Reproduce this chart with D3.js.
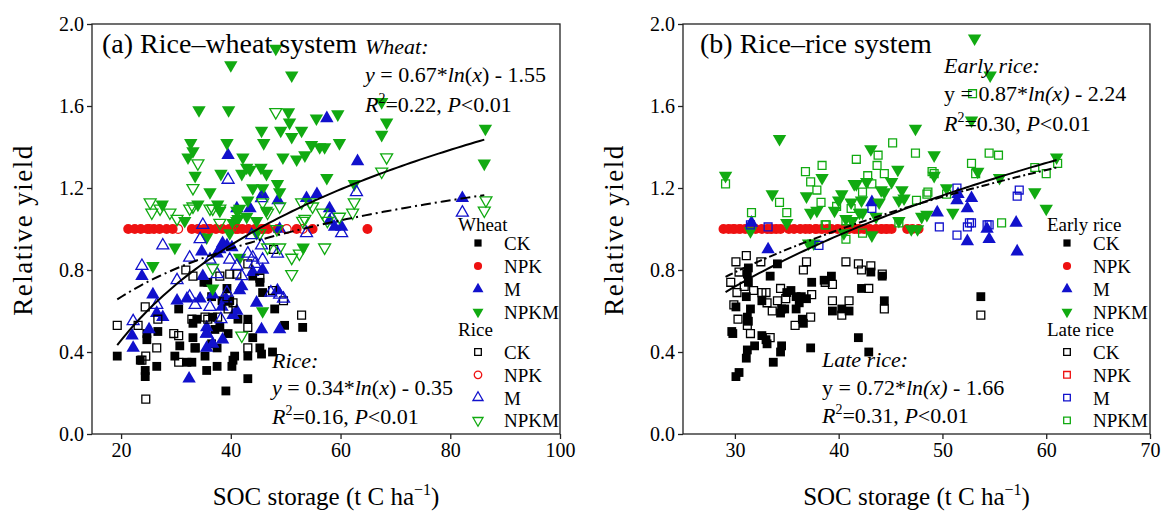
<!DOCTYPE html>
<html>
<head>
<meta charset="utf-8">
<script src="https://cdn.jsdelivr.net/npm/d3@7"></script>
<style>
  body { margin: 0; background: #fff; }
  svg text { font-family: "Liberation Serif", "Times New Roman", serif; }
</style>
</head>
<body>
<svg id="chart" width="1164" height="512" font-family="Liberation Serif"></svg>
<script>
// ---- panel (a) rice-wheat: [SOC, relative yield]
const aWheatCK = [[19.3,0.38],[23.5,0.36],[24.4,0.28],[24.4,0.31],[24.7,0.46],[24.7,0.49],[26.5,0.33],[26.7,0.50],[29.8,0.38],[30.7,0.43],[30.5,0.61],[32.0,0.35],[32.9,0.35],[33.1,0.47],[33.1,0.54],[33.5,0.42],[33.8,0.56],[35.1,0.74],[35.3,0.38],[35.6,0.31],[35.8,0.74],[36.5,0.67],[36.5,0.44],[36.7,0.57],[37.1,0.51],[37.5,0.42],[37.5,0.33],[38.0,0.52],[38.4,0.65],[39.1,0.21],[39.3,0.71],[39.5,0.49],[39.8,0.65],[40.2,0.33],[40.4,0.36],[40.7,0.38],[41.3,0.56],[43.1,0.56],[43.1,0.27],[43.1,0.38],[44.0,0.47],[44.0,0.77],[45.3,0.42],[45.3,0.74],[45.6,0.39],[45.8,0.69],[47.6,0.40],[48.0,0.61],[49.8,0.53],[53.1,0.52]];
const aWheatNPK = [[21.3,1],[22.5,1],[23.6,1],[24.8,1],[26.0,1],[27.0,1],[28.3,1],[29.4,1],[32.9,1],[34.0,1],[35.1,1],[36.2,1],[37.3,1],[38.5,1],[39.7,1],[40.9,1],[42.1,1],[43.2,1],[44.4,1],[45.6,1],[46.8,1],[48.5,1],[52.0,1],[54.9,1],[64.9,1]];
const aWheatM = [[22.0,0.48],[22.2,0.42],[23.8,0.77],[25.1,0.51],[25.8,0.68],[26.5,0.59],[27.6,0.57],[30.2,0.65],[32.0,0.66],[32.4,0.27],[34.4,0.66],[34.7,0.89],[34.9,0.77],[35.6,0.42],[35.6,0.49],[35.6,0.52],[36.7,0.44],[36.7,0.68],[37.5,0.88],[38.0,0.90],[38.4,0.62],[38.5,0.46],[38.5,0.93],[39.1,0.66],[39.3,0.92],[39.5,1.36],[40.2,0.91],[40.4,0.58],[41.1,0.60],[41.1,1.10],[41.6,0.70],[42.0,0.72],[43.5,1.10],[44.0,0.79],[44.7,0.64],[45.6,0.51],[45.8,0.80],[45.8,1.17],[48.5,0.70],[48.6,1.14],[48.9,0.51],[48.9,1.00],[53.8,1.15],[55.7,1.17],[57.5,1.54],[58.0,1.10],[58.0,1.04],[58.9,1.01],[60.2,1.01],[63.1,1.33],[82.2,1.15]];
const aWheatNPKM = [[48.2,1.88],[40.0,1.80],[51.1,1.75],[34.2,1.58],[39.6,1.58],[50.5,1.57],[45.6,1.48],[49.1,1.48],[50.7,1.52],[52.9,1.48],[55.6,1.54],[32.7,1.42],[39.3,1.42],[46.0,1.42],[51.1,1.45],[54.7,1.41],[33.1,1.38],[32.2,1.35],[42.2,1.35],[42.9,1.30],[45.5,1.30],[49.5,1.35],[52.0,1.34],[53.5,1.36],[33.5,1.26],[38.2,1.27],[42.0,1.27],[43.5,1.29],[36.2,1.18],[44.0,1.20],[48.5,1.22],[46.5,1.27],[27.5,1.12],[37.6,1.12],[41.6,1.10],[43.1,1.14],[41.3,1.05],[31.6,1.04],[44.7,1.04],[67.5,1.62],[59.5,1.56],[68.4,1.52],[67.5,1.46],[57.1,1.40],[59.8,1.42],[56.2,1.40],[86.4,1.49],[86.2,1.32],[57.5,1.25],[62.5,1.22],[48.9,1.18],[45.8,1.20],[38.0,1.09],[41.1,1.09],[41.1,1.04],[42.9,1.06],[46.5,1.09],[35.6,0.96],[53.2,0.91],[41.6,0.86],[36.7,0.71],[34.0,1.12],[39.8,0.98],[40.4,1.03],[44.7,0.98],[25.8,0.82],[29.8,0.91],[45.8,0.60]];
const aRiceCK = [[19.3,0.53],[23.1,0.53],[23.8,0.36],[24.4,0.62],[24.5,0.38],[24.5,0.17],[26.5,0.42],[26.7,0.56],[29.6,0.49],[30.5,0.48],[30.5,0.35],[31.8,0.80],[32.9,0.56],[33.1,0.77],[33.5,0.42],[35.3,0.57],[35.8,0.56],[37.6,0.57],[38.0,0.77],[39.3,0.67],[39.5,0.61],[39.8,0.78],[40.4,0.64],[41.1,0.78],[43.1,0.83],[43.1,0.52],[43.1,0.42],[45.3,0.76],[47.6,0.70],[47.8,0.90],[49.6,0.65],[52.9,0.58]];
const aRiceNPK = [[25.2,1],[30.4,1],[36.0,1],[41.3,1],[46.1,1],[50.2,1],[53.1,1]];
const aRiceM = [[22.2,0.55],[23.8,0.82],[26.5,0.63],[27.6,0.92],[30.2,0.75],[32.5,0.67],[32.5,0.86],[33.5,0.63],[34.4,0.95],[34.9,1.02],[35.6,0.49],[36.2,0.62],[36.2,0.85],[37.5,0.78],[38.2,0.56],[39.3,0.69],[39.5,1.24],[39.8,0.85],[41.1,0.82],[42.0,0.77],[43.1,0.88],[43.8,0.97],[44.0,0.86],[44.4,0.83],[45.6,0.92],[45.6,1.15],[45.8,0.85],[47.3,0.69],[48.5,0.88],[48.9,0.68],[49.6,0.66],[53.8,0.98],[58.4,1.05],[60.2,0.98],[62.9,1.18],[82.2,1.08]];
const aRiceNPKM = [[48.2,1.57],[34.0,1.32],[33.1,1.20],[25.3,1.13],[27.1,1.10],[28.9,1.08],[30.2,1.05],[33.1,1.11],[36.2,1.10],[38.0,1.10],[45.8,1.13],[46.7,1.08],[53.5,1.05],[54.4,1.13],[25.6,1.08],[68.4,1.35],[67.5,1.28],[86.5,1.14],[86.2,1.09],[62.5,1.13],[62.2,1.08],[59.8,1.06],[57.6,1.04],[54.9,1.11],[53.1,1.04],[32.5,1.10],[36.7,1.10],[48.9,1.11],[52.9,1.13],[56.7,1.08],[57.1,0.91],[51.1,0.86],[51.1,0.78],[46.7,0.91],[48.9,0.91],[36.7,0.81],[38.0,1.03],[48.4,1.00],[45.3,0.98],[42.0,0.48],[52.5,0.88]];

// ---- panel (b) rice-rice
const bEarlyCK = [[31.3,0.81],[31.2,0.78],[31.3,0.74],[34.1,0.83],[33.4,0.77],[31.1,0.67],[30.1,0.62],[31.5,0.61],[32.6,0.65],[31.2,0.57],[31.3,0.55],[29.7,0.50],[29.8,0.49],[32.6,0.48],[33.0,0.46],[33.1,0.44],[31.9,0.43],[31.2,0.41],[31.1,0.37],[34.5,0.43],[34.4,0.40],[33.7,0.35],[30.4,0.30],[30.1,0.28],[35.0,0.69],[35.4,0.70],[35.9,0.67],[36.4,0.67],[36.9,0.66],[36.2,0.64],[35.9,0.61],[34.8,0.61],[34.5,0.61],[34.4,0.59],[36.5,0.56],[36.6,0.54],[37.4,0.74],[37.3,0.42],[38.6,0.75],[39.3,0.77],[39.4,0.60],[40.3,0.61],[41.0,0.60],[42.2,0.71],[43.1,0.79],[44.2,0.77],[44.4,0.65],[41.9,0.47],[42.9,0.40],[53.7,0.67]];
const bEarlyNPK = [[28.9,1],[29.4,1],[29.9,1],[30.5,1],[31.0,1],[31.4,1],[32.0,1],[32.6,1],[33.1,1],[33.5,1],[34.0,1],[34.4,1],[35.2,1],[35.7,1],[36.3,1],[36.8,1],[37.2,1],[37.8,1],[38.4,1],[38.9,1],[39.3,1],[39.9,1],[40.4,1],[41.0,1],[41.5,1],[41.9,1],[42.5,1],[43.0,1],[43.6,1],[44.1,1],[44.6,1],[45.1,1],[46.6,1],[47.1,1],[47.7,1]];
const bEarlyM = [[31.6,1.03],[33.2,0.90],[43.2,1.13],[49.5,1.08],[51.4,1.14],[51.5,1.17],[52.8,1.15],[52.4,1.10],[52.4,0.94],[54.3,1.00],[54.5,0.95],[57.1,1.03],[57.2,0.89]];
const bEarlyNPKM = [[29.1,1.26],[34.3,1.44],[33.6,1.17],[35.0,1.03],[47.4,1.49],[43.1,1.39],[45.7,1.29],[38.4,1.25],[36.9,1.16],[40.3,1.17],[41.7,1.22],[42.7,1.23],[45.1,1.23],[41.2,1.13],[42.2,1.14],[46.1,1.19],[37.3,1.08],[37.9,1.09],[39.6,1.09],[40.7,1.05],[42.3,1.08],[43.9,1.13],[45.8,1.14],[48.0,1.06],[49.2,1.36],[49.2,1.26],[44.4,1.18],[53.1,1.93],[54.6,1.75],[52.8,1.53],[61.0,1.35],[53.4,1.28],[55.5,1.25],[58.9,1.18],[60.0,1.10],[50.4,1.20],[51.0,1.08],[48.5,1.07],[47.6,1.00],[45.8,1.04],[43.2,0.97],[44.1,1.19],[41.5,1.22],[42.0,1.08],[40.0,1.14],[41.3,1.04],[43.6,1.06],[47.0,1.00],[46.3,1.15],[37.1,0.93],[37.6,0.93],[31.5,0.99],[40.5,0.98]];
const bLateCK = [[30.1,0.84],[31.1,0.87],[30.4,0.79],[29.6,0.74],[30.2,0.69],[29.9,0.63],[30.9,0.72],[31.8,0.70],[32.5,0.84],[32.6,0.69],[33.0,0.69],[33.1,0.64],[33.6,0.60],[34.1,0.65],[30.3,0.56],[31.2,0.53],[31.5,0.49],[33.4,0.47],[34.4,0.71],[34.9,0.66],[36.9,0.84],[36.6,0.80],[37.4,0.68],[37.3,0.57],[35.8,0.53],[38.7,0.74],[39.4,0.65],[39.4,0.73],[40.7,0.84],[41.0,0.65],[40.3,0.58],[41.9,0.83],[42.2,0.80],[43.1,0.82],[44.2,0.78],[42.9,0.71],[44.4,0.61],[53.7,0.58]];
const bLateNPK = [[30.0,1],[33.5,1],[38.0,1],[42.0,1],[44.5,1]];
const bLateM = [[31.5,1.02],[33.2,1.01],[38.1,0.92],[43.2,1.10],[51.4,1.20],[49.7,1.01],[51.4,0.97],[52.8,1.03],[52.4,1.01],[54.5,1.02],[57.2,1.16],[57.4,1.19],[52.6,1.03],[54.3,1.02]];
const bLateNPKM = [[29.1,1.22],[31.6,1.08],[34.3,1.13],[35.0,1.08],[36.8,1.28],[38.4,1.31],[37.3,1.23],[37.9,1.19],[41.7,1.34],[45.2,1.42],[43.8,1.36],[43.7,1.31],[44.4,1.27],[47.4,1.37],[42.8,1.26],[43.2,1.22],[38.3,1.13],[39.8,1.11],[41.2,1.10],[38.8,1.02],[45.8,1.03],[47.5,1.14],[48.6,1.18],[49.0,1.28],[42.3,1.18],[52.9,1.66],[54.5,1.37],[55.4,1.36],[52.8,1.32],[53.2,1.27],[58.9,1.30],[60.0,1.27],[61.1,1.32],[49.2,1.27],[48.5,1.17],[50.4,1.17],[55.7,1.03],[40.7,1.04],[42.3,0.98],[38.7,1.02],[40.7,0.95]];

const yTicks = [0.0, 0.4, 0.8, 1.2, 1.6, 2.0];
const aXTicks = [20, 40, 60, 80, 100];
const bXTicks = [30, 40, 50, 60, 70];
const legendNames = ["CK", "NPK", "M", "NPKM"];
// fitted ln models: y = a*ln(x) + b, [a, b, xStart, xEnd]
const aFitWheat = [0.67, -1.55, 19.3, 86.2];
const aFitRice = [0.34, -0.35, 19.3, 86.2];
const bFitEarly = [0.87, -2.24, 29.1, 61.0];
const bFitLate = [0.72, -1.66, 29.1, 61.0];

const FONT = "Liberation Serif";
const svg = d3.select("#chart");
const colors = { CK: "#000000", NPK: "#ee1111", M: "#1111cc", NPKM: "#11aa11" };

function symbolPath(kind, size) {
  var t = kind == "square" ? d3.symbolSquare : kind == "circle" ? d3.symbolCircle : d3.symbolTriangle;
  return d3.symbol().type(t).size(size)();
}

function styleAxis(a) {
  a.attr("font-family", FONT);
  a.select(".domain").remove();
  a.selectAll("line").attr("stroke", "#222").attr("stroke-width", 1.3);
  a.selectAll("text").attr("font-size", 20).attr("fill", "#000").attr("font-family", FONT);
}

function drawPanel(cfg) {
  var x = d3.scaleLinear().domain(cfg.xDomain).range([cfg.left, cfg.right]);
  var y = d3.scaleLinear().domain([0, 2]).range([434, 24]);
  var g = svg.append("g").attr("font-family", FONT);

  g.append("g")
    .attr("transform", "translate(0,434)")
    .call(d3.axisBottom(x).tickValues(cfg.xTicks).tickSize(5).tickSizeOuter(0).tickPadding(4))
    .call(styleAxis);
  g.append("g")
    .attr("transform", "translate(" + cfg.left + ",0)")
    .call(d3.axisLeft(y).tickValues(yTicks).tickFormat(d3.format(".1f")).tickSize(5).tickSizeOuter(0).tickPadding(3))
    .call(styleAxis);

  // series in legend order
  cfg.series.forEach(function (s) {
    g.append("g").selectAll("path")
      .data(s.data)
      .enter()
      .append("path")
      .attr("d", symbolPath(s.shape, s.filled ? 78 : 62))
      .attr("transform", function (d) {
        return "translate(" + x(d[0]) + "," + y(d[1]) + ")" + (s.down ? " rotate(180)" : "");
      })
      .attr("fill", s.filled ? s.color : "none")
      .attr("stroke", s.color)
      .attr("stroke-width", s.filled ? 0 : 1.3);
  });

  // fit lines
  cfg.fits.forEach(function (f) {
    var p = f.fit;
    var xs = d3.range(p[2], p[3] + 0.001, (p[3] - p[2]) / 80);
    g.append("path")
      .datum(xs)
      .attr("d", d3.line().x(function (d) { return x(d); }).y(function (d) { return y(p[0] * Math.log(d) + p[1]); }))
      .attr("fill", "none")
      .attr("stroke", "#000")
      .attr("stroke-width", 2)
      .attr("stroke-dasharray", f.dash || null);
  });

  // frame
  g.append("rect")
    .attr("x", cfg.left).attr("y", 24)
    .attr("width", cfg.right - cfg.left).attr("height", 410)
    .attr("fill", "none").attr("stroke", "#222").attr("stroke-width", 1.3);

  // title
  g.append("text").attr("x", cfg.left + cfg.titleDx).attr("y", 53)
    .attr("font-size", 28).text(cfg.title);

  // axis titles
  var xt = g.append("text").attr("x", (cfg.left + cfg.right) / 2).attr("y", 505)
    .attr("text-anchor", "middle").attr("font-size", 25);
  xt.append("tspan").text("SOC storage (t C ha");
  xt.append("tspan").attr("dy", -10).attr("font-size", 16).text("\u22121");
  xt.append("tspan").attr("dy", 10).text(")");
  g.append("text")
    .attr("transform", "translate(" + (cfg.left - 60) + ",230) rotate(-90)")
    .attr("text-anchor", "middle").attr("font-size", 27).attr("letter-spacing", 1.5)
    .text("Relative yield");

  // legend
  var lg = g.append("g");
  lg.append("text").attr("x", cfg.legX).attr("y", 231).attr("font-size", 19).text(cfg.legHead[0]);
  lg.append("text").attr("x", cfg.legX).attr("y", 336).attr("font-size", 19).text(cfg.legHead[1]);
  cfg.series.forEach(function (s, i) {
    var cy = i < 4 ? 243 + i * 23 : 352 + (i - 4) * 22.8;
    lg.append("path")
      .attr("d", symbolPath(s.shape, s.filled ? 52 : 44))
      .attr("transform", "translate(" + cfg.legSym + "," + cy + ")" + (s.down ? " rotate(180)" : ""))
      .attr("fill", s.filled ? s.color : "none")
      .attr("stroke", s.color)
      .attr("stroke-width", s.filled ? 0 : 1.3);
    lg.append("text").attr("x", cfg.legSym + 26).attr("y", cy + 7).attr("font-size", 19).text(legendNames[i % 4]);
  });

  // equations
  cfg.notes.forEach(function (n) {
    var t = g.append("text").attr("x", n.x).attr("y", n.y).attr("font-size", 22);
    n.parts.forEach(function (p) {
      var ts = t.append("tspan").text(p[0]);
      if (p[1] == "i") ts.attr("font-style", "italic");
      if (p[1] == "sup") ts.attr("dy", -9).attr("font-size", 14);
      if (p[1] == "after") ts.attr("dy", 9);
    });
  });
}

function makeSeries(ck, npk, m, npkm, ck2, npk2, m2, npkm2, shape2) {
  var sq = shape2 == "square";
  return [
    { data: ck, shape: "square", filled: true, color: colors.CK },
    { data: npk, shape: "circle", filled: true, color: colors.NPK },
    { data: m, shape: "triangle", filled: true, color: colors.M },
    { data: npkm, shape: "triangle", down: true, filled: true, color: colors.NPKM },
    { data: ck2, shape: "square", filled: false, color: colors.CK },
    { data: npk2, shape: sq ? "square" : "circle", filled: false, color: colors.NPK },
    { data: m2, shape: sq ? "square" : "triangle", filled: false, color: colors.M },
    { data: npkm2, shape: sq ? "square" : "triangle", down: !sq, filled: false, color: colors.NPKM }
  ];
}

drawPanel({
  left: 92, right: 560, xDomain: [14.7, 100], xTicks: aXTicks, titleDx: 10,
  title: "(a) Rice\u2013wheat system",
  series: makeSeries(aWheatCK, aWheatNPK, aWheatM, aWheatNPKM, aRiceCK, aRiceNPK, aRiceM, aRiceNPKM, "mixed"),
  fits: [{ fit: aFitWheat }, { fit: aFitRice, dash: "10,4,2,4" }],
  legX: 458, legSym: 478, legHead: ["Wheat", "Rice"],
  notes: [
    { x: 365, y: 54, parts: [["Wheat:", "i"]] },
    { x: 365, y: 82, parts: [["y", "i"], [" = 0.67*"], ["ln", "i"], ["("], ["x", "i"], [") - 1.55"]] },
    { x: 365, y: 112, parts: [["R", "i"], ["2", "sup"], ["=0.22, ", "after"], ["P", "i"], ["<0.01"]] },
    { x: 272, y: 368, parts: [["Rice:", "i"]] },
    { x: 272, y: 395, parts: [["y", "i"], [" = 0.34*"], ["ln", "i"], ["("], ["x", "i"], [") - 0.35"]] },
    { x: 272, y: 424, parts: [["R", "i"], ["2", "sup"], ["=0.16, ", "after"], ["P", "i"], ["<0.01"]] }
  ]
});

drawPanel({
  left: 683, right: 1150, xDomain: [25, 70], xTicks: bXTicks, titleDx: 17,
  title: "(b) Rice\u2013rice system",
  series: makeSeries(bEarlyCK, bEarlyNPK, bEarlyM, bEarlyNPKM, bLateCK, bLateNPK, bLateM, bLateNPKM, "square"),
  fits: [{ fit: bFitEarly }, { fit: bFitLate, dash: "8,3,2,3" }],
  legX: 1047, legSym: 1067, legHead: ["Early rice", "Late rice"],
  notes: [
    { x: 944, y: 73, parts: [["Early rice:", "i"]] },
    { x: 944, y: 101, parts: [["y = 0.87*"], ["ln(x)", "i"], [" - 2.24"]] },
    { x: 944, y: 131, parts: [["R", "i"], ["2", "sup"], ["=0.30, ", "after"], ["P", "i"], ["<0.01"]] },
    { x: 822, y: 367, parts: [["Late rice:", "i"]] },
    { x: 822, y: 395, parts: [["y = 0.72*"], ["ln(x)", "i"], [" - 1.66"]] },
    { x: 822, y: 423, parts: [["R", "i"], ["2", "sup"], ["=0.31, ", "after"], ["P", "i"], ["<0.01"]] }
  ]
});
</script>
</body>
</html>
